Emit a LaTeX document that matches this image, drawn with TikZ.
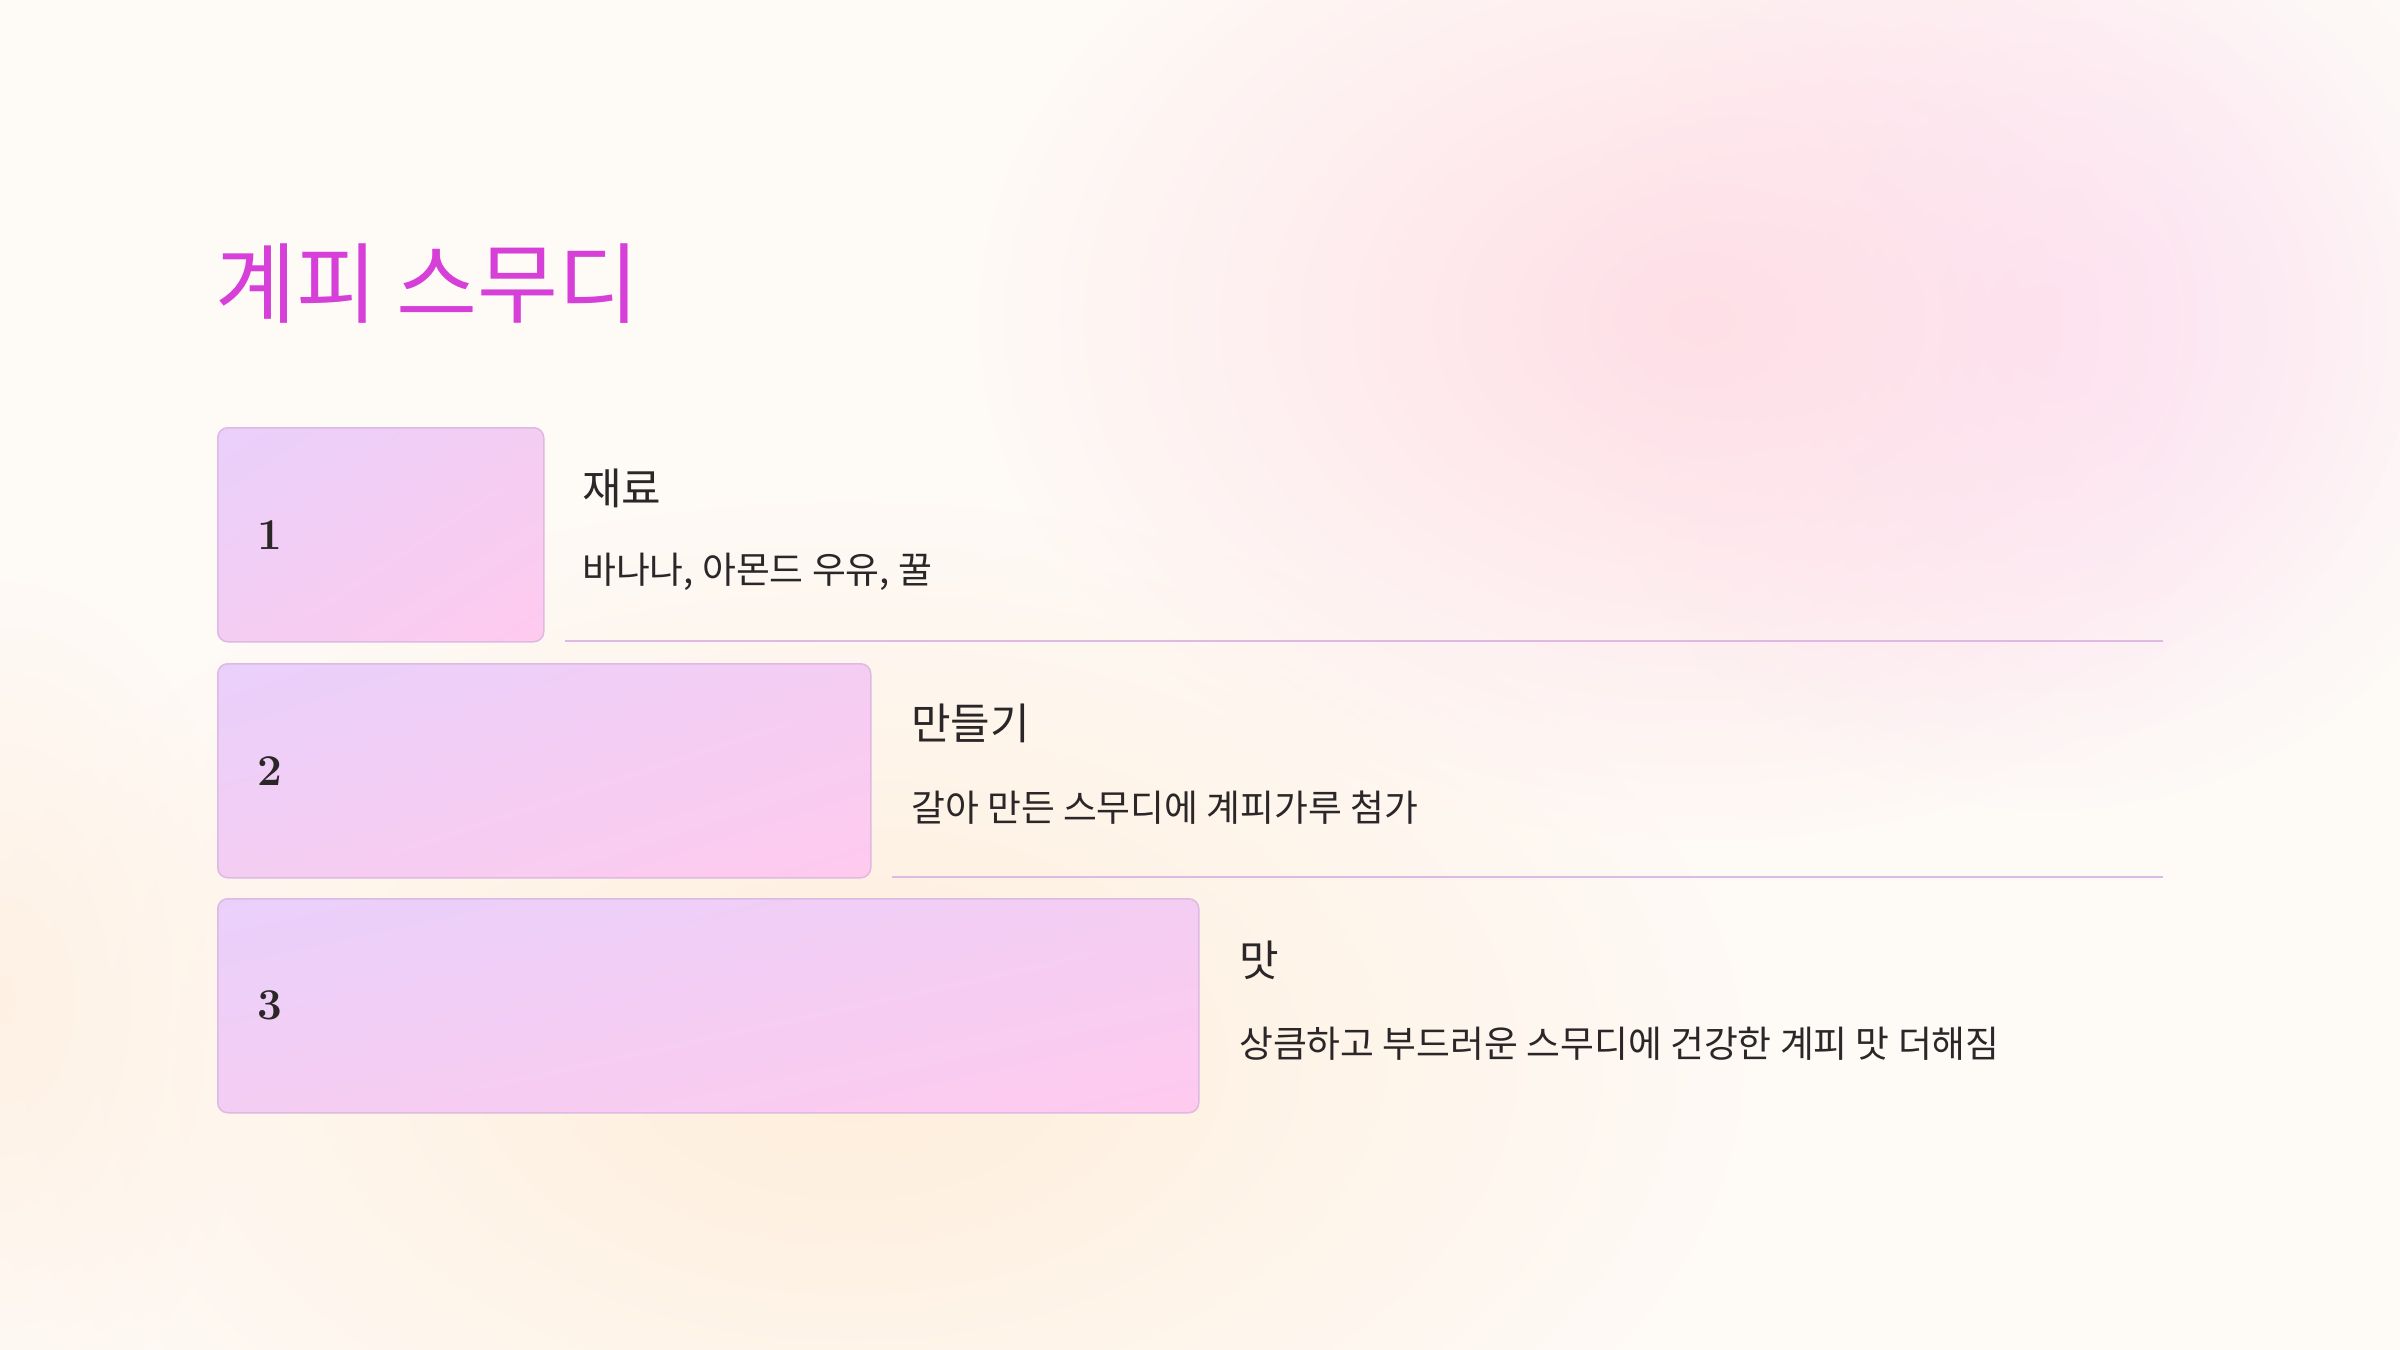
\documentclass[tikz,border=0pt]{standalone}
\usepackage{fontspec}
\newfontfamily\cjk{Noto Sans CJK KR}
\usetikzlibrary{fadings,shadings}

\definecolor{bgcream}{HTML}{FEFAF6}
\definecolor{blobpink}{HTML}{FFDFE7}
\definecolor{bloblilac}{HTML}{FCE6F8}
\definecolor{blobpeach}{HTML}{FFEEDB}
\definecolor{blobpeachlt}{HTML}{FEF1E4}
\definecolor{titlemag}{HTML}{D63FD8}
\definecolor{boxlav}{HTML}{E9D0FB}
\definecolor{boxmid}{HTML}{F4CDF3}
\definecolor{boxpink}{HTML}{FFCAEE}
\definecolor{boxedge}{HTML}{DDB9E3}
\definecolor{txtdark}{HTML}{2B2628}

\tikzfading[name=blobfade, inner color=transparent!0, outer color=transparent!100]

\tikzset{
  stepbox/.style={draw=boxedge, line width=1.5bp, rounded corners=10bp,
    upper left=boxlav, lower left=boxmid, upper right=boxmid, lower right=boxpink,
    minimum height=214bp, anchor=north west, inner sep=0pt},
  numtxt/.style={font=\bfseries\fontsize{44bp}{50bp}\selectfont, text=txtdark, anchor=west, inner sep=0pt},
  headtxt/.style={font=\cjk\fontsize{43bp}{50bp}\selectfont, text=txtdark, anchor=west, inner sep=0pt},
  desctxt/.style={font=\cjk\fontsize{36.8bp}{42bp}\selectfont, text=txtdark, anchor=west, inner sep=0pt},
  sepline/.style={draw=boxedge, line width=1.5bp}
}

\begin{document}
\begin{tikzpicture}[x=1bp,y=-1bp]
        % Background with soft colour blobs
        \fill[bgcream] (0,0) rectangle (2400,1350);
        \useasboundingbox (0,0) rectangle (2400,1350);
        \fill[blobpeach, path fading=blobfade] (850,1060) ellipse (900bp and 560bp);
        \fill[blobpeachlt, path fading=blobfade] (0,1000) ellipse (260bp and 420bp);
        \fill[bloblilac, path fading=blobfade] (2050,330) ellipse (480bp and 480bp);
        \fill[blobpink, path fading=blobfade] (1700,320) ellipse (720bp and 520bp);

        % Title
        \node[font=\cjk\fontsize{88bp}{96bp}\selectfont, text=titlemag, anchor=west, inner sep=0pt]
            (title) at (215,284) {계피 스무디};

        % Step 1
        \node[stepbox, shade, minimum width=326bp] (box1) at (217,427) {};
        \node[numtxt] (num1) at ([xshift=40bp]box1.west) {1};
        \node[headtxt] (head1) at (582,488) {재료};
        \node[desctxt] (desc1) at (582,572) {바나나, 아몬드 우유, 꿀};
        \draw[sepline] (565,641) -- (2163,641);

        % Step 2
        \node[stepbox, shade, minimum width=653bp] (box2) at (217,663) {};
        \node[numtxt] (num2) at ([xshift=40bp]box2.west) {2};
        \node[headtxt] (head2) at (911,723) {만들기};
        \node[desctxt] (desc2) at (911,808) {갈아 만든 스무디에 계피가루 첨가};
        \draw[sepline] (892,877) -- (2163,877);

        % Step 3
        \node[stepbox, shade, minimum width=981bp] (box3) at (217,898) {};
        \node[numtxt] (num3) at ([xshift=40bp]box3.west) {3};
        \node[headtxt] (head3) at (1239,960) {맛};
        \node[desctxt] (desc3) at (1239,1044) {상큼하고 부드러운 스무디에 건강한 계피 맛 더해짐};
    \end{tikzpicture}
\end{document}
